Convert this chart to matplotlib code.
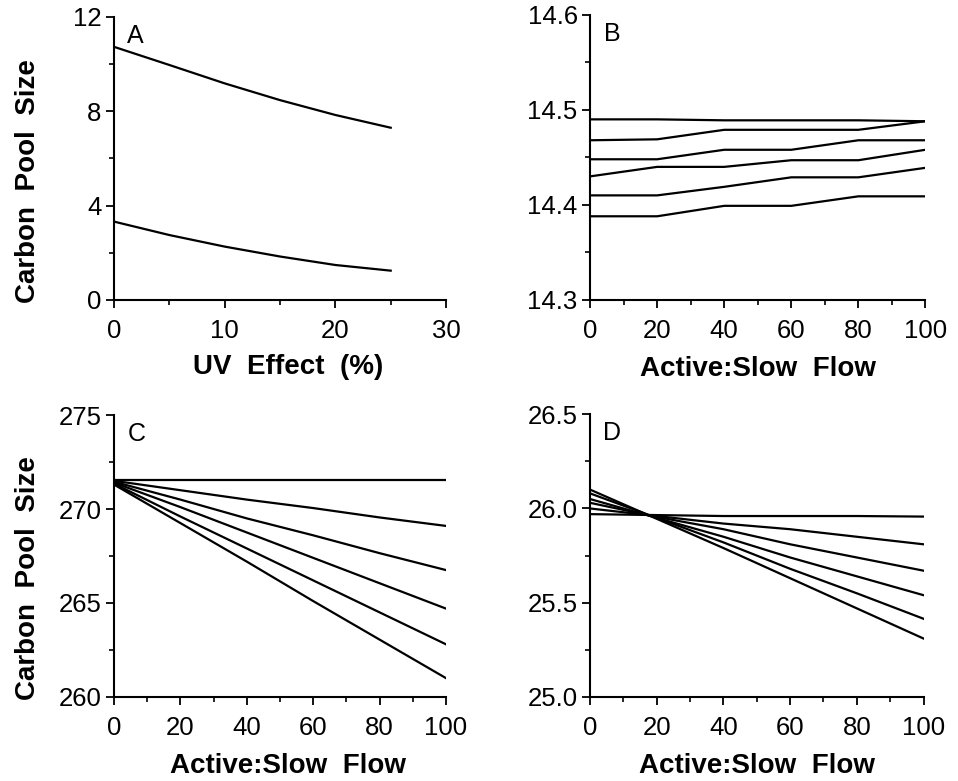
import numpy as np
import matplotlib.pyplot as plt
from matplotlib.ticker import MultipleLocator

plt.rcParams['font.family'] = ['Liberation Sans', 'DejaVu Sans']

# panel A: UV effect
uv_x = [0, 5, 10, 15, 20, 25]
uv_upper = [10.73, 9.96, 9.18, 8.47, 7.84, 7.30]
uv_lower = [3.32, 2.75, 2.26, 1.84, 1.48, 1.24]

# panels B-D: active:slow flow
flow_x = [0, 20, 40, 60, 80, 100]
b_lines = [
    [14.49, 14.49, 14.489, 14.489, 14.489, 14.488],
    [14.468, 14.469, 14.479, 14.479, 14.479, 14.488],
    [14.448, 14.448, 14.458, 14.458, 14.468, 14.468],
    [14.430, 14.440, 14.440, 14.447, 14.447, 14.458],
    [14.410, 14.410, 14.419, 14.429, 14.429, 14.439],
    [14.388, 14.388, 14.399, 14.399, 14.409, 14.409],
]
c_lines = [
    [271.55, 271.55, 271.55, 271.55, 271.55, 271.55],
    [271.50, 271.00, 270.50, 270.05, 269.55, 269.10],
    [271.45, 270.50, 269.50, 268.60, 267.65, 266.75],
    [271.40, 270.10, 268.75, 267.40, 266.05, 264.70],
    [271.35, 269.60, 267.90, 266.20, 264.50, 262.80],
    [271.30, 269.25, 267.20, 265.10, 263.05, 261.00],
]
d_lines = [
    [25.97, 25.965, 25.96, 25.96, 25.96, 25.957],
    [26.00, 25.96, 25.92, 25.89, 25.85, 25.81],
    [26.03, 25.955, 25.89, 25.81, 25.74, 25.67],
    [26.05, 25.95, 25.85, 25.74, 25.64, 25.54],
    [26.08, 25.95, 25.82, 25.68, 25.55, 25.415],
    [26.10, 25.945, 25.79, 25.63, 25.47, 25.31],
]

fig = plt.figure(figsize=(9.58, 7.81), dpi=100)
axA = fig.add_axes([0.119, 0.616, 0.3466, 0.3624])
axB = fig.add_axes([0.616, 0.616, 0.35, 0.365])
axC = fig.add_axes([0.119, 0.1076, 0.3466, 0.361])
axD = fig.add_axes([0.616, 0.1076, 0.348, 0.362])

lw = 1.6
axA.plot(uv_x, uv_upper, 'k-', lw=lw)
axA.plot(uv_x, uv_lower, 'k-', lw=lw)
for y in b_lines:
    axB.plot(flow_x, y, 'k-', lw=lw)
for y in c_lines:
    axC.plot(flow_x, y, 'k-', lw=lw)
for y in d_lines:
    axD.plot(flow_x, y, 'k-', lw=lw)

axA.set_xlim(0, 30)
axA.set_ylim(0, 12)
axA.xaxis.set_major_locator(MultipleLocator(10))
axA.xaxis.set_minor_locator(MultipleLocator(5))
axA.yaxis.set_major_locator(MultipleLocator(4))
axA.yaxis.set_minor_locator(MultipleLocator(2))

axB.set_xlim(0, 100)
axB.set_ylim(14.3, 14.6)
axB.yaxis.set_major_locator(MultipleLocator(0.1))
axB.yaxis.set_minor_locator(MultipleLocator(0.05))

axC.set_xlim(0, 100)
axC.set_ylim(260, 275)
axC.yaxis.set_major_locator(MultipleLocator(5))
axC.yaxis.set_minor_locator(MultipleLocator(2.5))

axD.set_xlim(0, 100)
axD.set_ylim(25.0, 26.5)
axD.yaxis.set_major_locator(MultipleLocator(0.5))
axD.yaxis.set_minor_locator(MultipleLocator(0.25))
axD.yaxis.set_major_formatter(plt.FormatStrFormatter('%.1f'))
axB.yaxis.set_major_formatter(plt.FormatStrFormatter('%.1f'))

for ax in (axB, axC, axD):
    ax.xaxis.set_major_locator(MultipleLocator(20))
    ax.xaxis.set_minor_locator(MultipleLocator(10))

for ax, letter in zip((axA, axB, axC, axD), 'ABCD'):
    ax.spines['top'].set_visible(False)
    ax.spines['right'].set_visible(False)
    ax.spines['left'].set_linewidth(1.5)
    ax.spines['bottom'].set_linewidth(1.5)
    ax.tick_params(which='major', direction='out', length=6, width=1.3,
                   labelsize=18.5)
    ax.tick_params(axis='x', which='major', pad=8)
    ax.tick_params(axis='y', which='major', pad=3)
    ax.tick_params(which='minor', direction='out', length=3.5, width=1.2)
    ax.text(0.04, 0.975, letter, transform=ax.transAxes, fontsize=18,
            va='top', ha='left')
    ax.margins(0)

axA.set_xlabel('UV  Effect  (%)', fontsize=20, fontweight='bold', labelpad=8)
for ax in (axB, axC, axD):
    ax.set_xlabel('Active:Slow  Flow', fontsize=20, fontweight='bold', labelpad=9)
for ax in (axA, axC):
    ax.xaxis.label.set_x(0.525)
    ax.set_ylabel('Carbon  Pool  Size', fontsize=20, fontweight='bold')
    ax.yaxis.set_label_coords(-0.22, 0.42)

fig.savefig('out.png', dpi=100)
